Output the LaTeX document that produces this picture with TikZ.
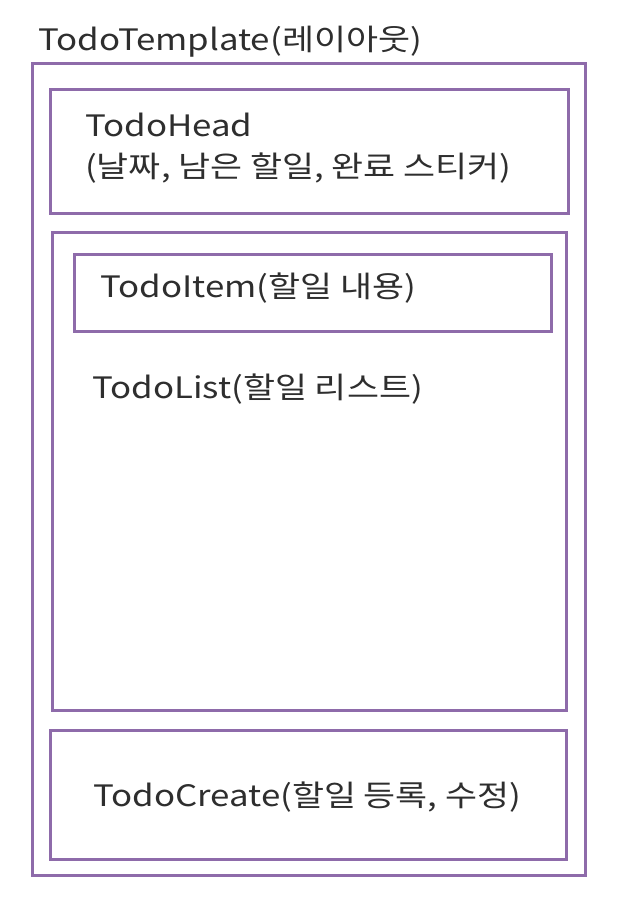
\documentclass[tikz,border=0pt]{standalone}
\usepackage{fontspec}
\setmainfont[FakeStretch=1.18]{Noto Sans CJK KR}
\definecolor{boxline}{HTML}{8E6BAA}
\definecolor{txt}{HTML}{2E2E2E}
\begin{document}
\begin{tikzpicture}[x=1pt,y=-1pt,
  frame/.style={draw=boxline,line width=3pt},
  lbl/.style={anchor=west,inner sep=0pt,text=txt,font=\fontsize{29.5}{41}\selectfont,align=left}]
\useasboundingbox (0,0) rectangle (635,904);
\draw[frame] (32,64) rectangle (585,875);
\draw[frame] (50,90) rectangle (568,213);
\draw[frame] (52,232) rectangle (566,710);
\draw[frame] (74,254) rectangle (551,331);
\draw[frame] (50,730) rectangle (566,859);
\node[lbl] (tpl) at (38,42) {TodoTemplate(레이아웃)};
\node[lbl] (head) at (85,148) {TodoHead\\(날짜, 남은 할일, 완료 스티커)};
\node[lbl] (item) at (100,288) {TodoItem(할일 내용)};
\node[lbl] (list) at (92,389) {TodoList(할일 리스트)};
\node[lbl] (create) at (93,797) {TodoCreate(할일 등록, 수정)};
\end{tikzpicture}
\end{document}
